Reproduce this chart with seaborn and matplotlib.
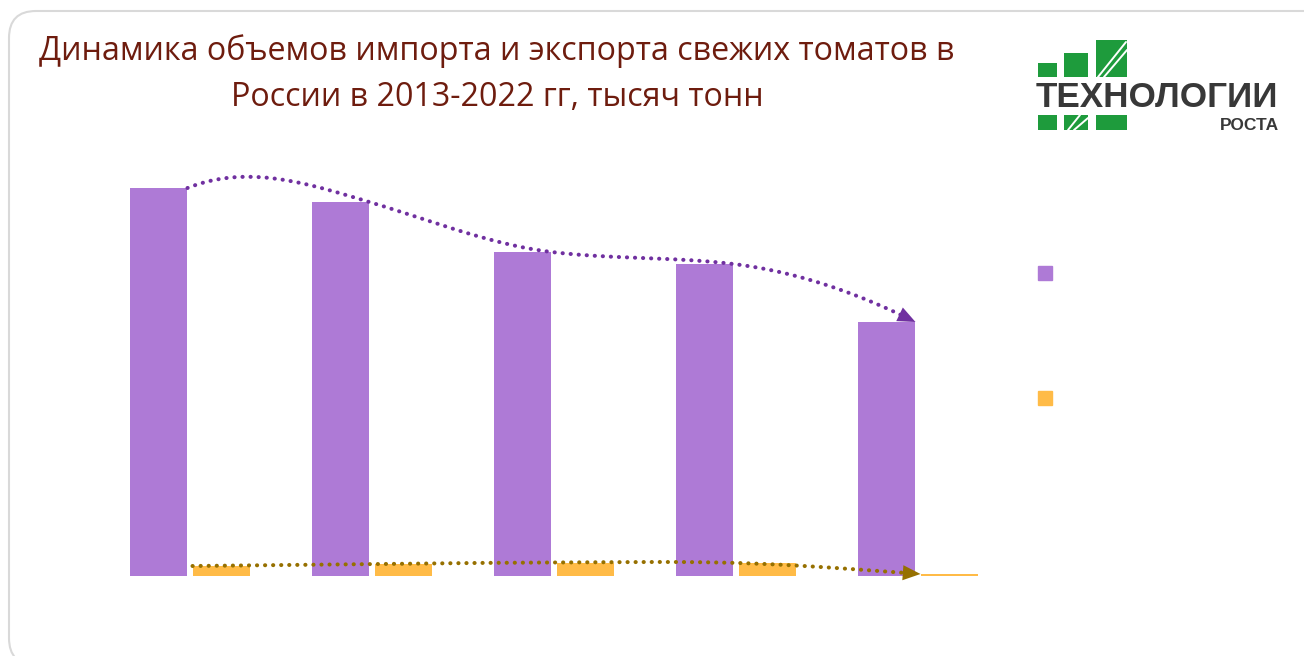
import numpy as np
import pandas as pd
import seaborn as sns
import matplotlib.pyplot as plt
import matplotlib.patches as mpatches
from matplotlib.lines import Line2D

# Import / export of fresh tomatoes in Russia, thousand tonnes
periods = ["2013-2014", "2015-2016", "2017-2018", "2019-2020", "2021-2022"]
imports = [776, 748, 648, 624, 508]
exports = [20, 24, 27, 26, 4]
flows = ["Импорт", "Экспорт"]

title_lines = ["Динамика объемов импорта и экспорта свежих томатов в",
               "России в 2013-2022 гг, тысяч тонн"]

# trend curve bend (slope at each bar corner, data units per category)
import_bend = [146, -109, -44, -44, -182]
export_bend = [4, 4, 1, -11, -26]

purple = "#AE7AD6"
orange = "#FFBB47"
purple_line = "#7030A0"
gold_line = "#967000"
title_color = "#6E1C0E"
logo_green = "#1E9B3C"

df = pd.DataFrame({"period": periods * 2,
                   "flow": [flows[0]] * len(periods) + [flows[1]] * len(periods),
                   "value": imports + exports})

sns.set_theme(style="white")
plt.rcParams["font.family"] = ["Open Sans", "DejaVu Sans"]

W, H = 1304, 656
fig = plt.figure(figsize=(W / 100, H / 100), dpi=100)
fig.patch.set_facecolor("white")

# rounded frame of the slide card
frame = mpatches.FancyBboxPatch((9, -9), 1330, H - 11 + 9,
                                boxstyle="round,pad=0,rounding_size=27",
                                transform=None, fc="none", ec="#D9D9D9", lw=1.5)
fig.add_artist(frame)

ax = fig.add_axes([99 / W, 80 / H, 910 / W, 400 / H])
sns.barplot(data=df, x="period", y="value", hue="flow", palette=[purple, orange],
            width=0.69, gap=0.08, saturation=1, linewidth=0, legend=False, ax=ax)
ax.set_xlim(-0.5, len(periods) - 0.5)
ax.set_ylim(0, 800)
ax.set(xticks=[], yticks=[], xlabel="", ylabel="")
sns.despine(ax=ax, left=True, bottom=True)


def hermite(xs, ys, slopes, n=40):
    px, py = [], []
    u = np.linspace(0, 1, n)
    for i in range(len(xs) - 1):
        h = xs[i + 1] - xs[i]
        h00 = 2 * u**3 - 3 * u**2 + 1
        h10 = u**3 - 2 * u**2 + u
        h01 = -2 * u**3 + 3 * u**2
        h11 = u**3 - u**2
        px.append(xs[i] + u * h)
        py.append(h00 * ys[i] + h10 * h * slopes[i] + h01 * ys[i + 1] + h11 * h * slopes[i + 1])
    return np.concatenate(px), np.concatenate(py)


bars = sorted(ax.patches, key=lambda p: p.get_x())
imp_bars = bars[0::2]
exp_bars = bars[1::2]

trends = [
    ([p.get_x() + p.get_width() for p in imp_bars], [p.get_height() for p in imp_bars], import_bend, purple_line),
    ([p.get_x() for p in exp_bars], [p.get_height() for p in exp_bars], export_bend, gold_line),
]
for xs, ys, bend, col in trends:
    cx, cy = hermite(xs, ys, bend)
    ax.plot(cx[:-3], cy[:-3], color=col, lw=2.9, linestyle=(0, (0.05, 1.95)),
            dash_capstyle="round", clip_on=False)
    ax.annotate("", xy=(cx[-1], cy[-1]), xytext=(cx[-5], cy[-5]),
                arrowprops=dict(arrowstyle="-|>,head_length=0.75,head_width=0.32",
                                color=col, lw=0, shrinkA=0, shrinkB=0,
                                mutation_scale=17),
                annotation_clip=False)

# legend (markers only, as on the slide)
handles = [Line2D([], [], marker="s", ls="", color=c, markersize=10.2) for c in (purple, orange)]
fig.legend(handles, ["", ""], loc="upper left", bbox_to_anchor=(1038 / W, 1 - 267 / H),
           frameon=False, borderpad=0, borderaxespad=0, handletextpad=0,
           handlelength=1, fontsize=10, labelspacing=7.9)

# title
fig.text(497 / W, 1 - 60 / H, title_lines[0], ha="center", va="baseline",
         fontsize=23.2, color=title_color)
fig.text(497 / W, 1 - 106 / H, title_lines[1], ha="center", va="baseline",
         fontsize=23.2, color=title_color)

# logo "Технологии роста"
lax = fig.add_axes([1030 / W, 1 - 140 / H, 260 / W, 105 / H])
lax.set_xlim(1030, 1290)
lax.set_ylim(140, 35)
lax.axis("off")
for x0, y0, x1, y1 in [(1038, 63, 1057, 77), (1064, 53, 1088, 77), (1096, 40, 1127, 77),
                       (1038, 115, 1057, 130), (1064, 115, 1088, 130), (1096, 115, 1127, 130)]:
    lax.add_patch(mpatches.Rectangle((x0, y0), x1 - x0, y1 - y0, fc=logo_green, ec="none"))
for (xa, ya), (xb, yb) in [((1098, 77), (1126, 42)), ((1104, 77), (1127, 50)),
                           ((1068, 130), (1080, 115)), ((1074, 130), (1088, 118))]:
    lax.plot([xa, xb], [ya, yb], color="white", lw=1.4)
lax.text(1036, 107, "ТЕХНОЛОГИИ", ha="left", va="baseline", fontsize=25.3,
         fontweight="bold", family="Liberation Sans", color="#383838")
lax.text(1279, 130, "РОСТА", ha="right", va="baseline", fontsize=12.5,
         fontweight="bold", family="Liberation Sans", color="#383838")

fig.savefig("out.png", dpi=100, facecolor="white")
